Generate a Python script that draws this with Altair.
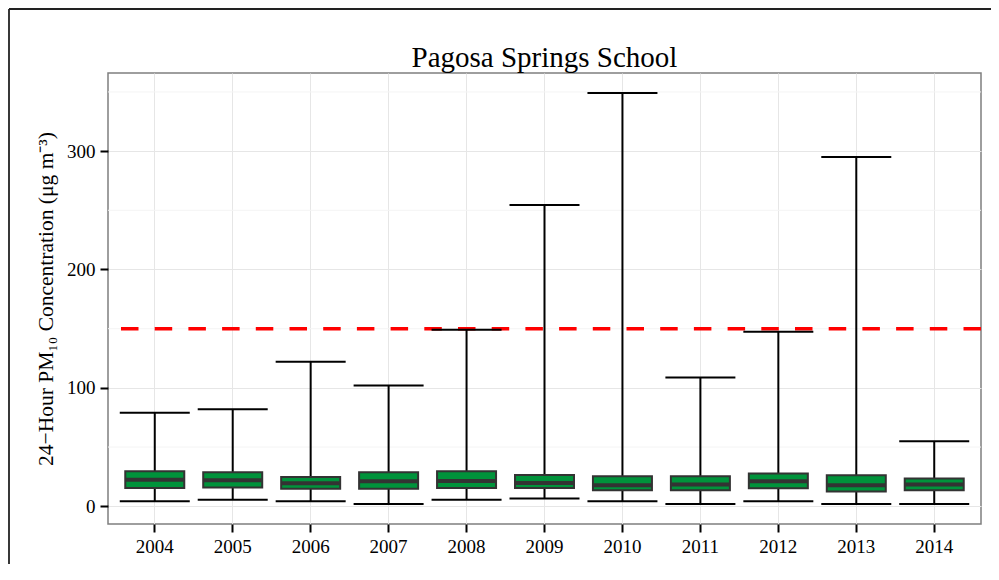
import altair as alt
import pandas as pd

# ---- data ----
years = ["2004", "2005", "2006", "2007", "2008", "2009", "2010", "2011", "2012", "2013", "2014"]
ymin = [4.2, 5.4, 4.2, 2.0, 5.4, 6.5, 4.2, 2.0, 4.2, 2.0, 2.0]
q1 = [15.5, 15.8, 14.8, 14.7, 15.5, 15.5, 13.5, 13.5, 15.2, 12.4, 13.5]
median = [22.4, 21.9, 19.5, 21.1, 21.4, 19.7, 17.7, 18.3, 21.1, 17.7, 18.3]
q3 = [29.5, 28.7, 24.7, 28.8, 29.5, 26.3, 25.4, 25.4, 27.6, 26.2, 23.4]
ymax = [79, 82, 122, 102, 149, 254.5, 349, 108.7, 147.5, 295, 55]
standard = [150]
minor_grid = [50, 150, 250, 350]
title_text = "Pagosa Springs School"
y_title = "24−Hour PM₁₀ Concentration (μg m⁻³)"

df = pd.DataFrame({"year": years, "ymin": ymin, "q1": q1, "med": median, "q3": q3, "ymax": ymax})
std_df = pd.DataFrame({"v": standard})
minor_df = pd.DataFrame({"v": minor_grid})

W, H = 873, 451
FONT = "Liberation Serif"

y_scale = alt.Scale(domain=[-15, 366], nice=False, zero=False)
x_enc = alt.X(
    "year:N",
    title=None,
    sort=years,
    scale=alt.Scale(paddingInner=0, paddingOuter=0.1),
    axis=alt.Axis(labelAngle=0, grid=True, gridColor="#e6e6e6", gridWidth=1),
)
y_axis = alt.Axis(
    values=[0, 100, 200, 300],
    title=y_title,
    grid=True,
    gridColor="#e6e6e6",
    gridWidth=1,
    titlePadding=9,
)

minor = alt.Chart(minor_df).mark_rule(color="#f4f4f4", strokeWidth=1).encode(
    y=alt.Y("v:Q", scale=y_scale, axis=y_axis)
)

std_line = alt.Chart(std_df).mark_rule(
    color="#ff0000", strokeWidth=3.5, strokeDash=[17.5, 16.2]
).encode(y=alt.Y("v:Q", scale=y_scale, axis=y_axis))

base = alt.Chart(df)

whisker = base.mark_rule(color="black", strokeWidth=2).encode(
    x=x_enc,
    y=alt.Y("ymin:Q", scale=y_scale, axis=y_axis),
    y2="ymax:Q",
)
cap_low = base.mark_tick(color="black", size=70, thickness=2, opacity=1).encode(
    x=x_enc, y=alt.Y("ymin:Q", scale=y_scale, axis=y_axis)
)
cap_high = base.mark_tick(color="black", size=70, thickness=2, opacity=1).encode(
    x=x_enc, y=alt.Y("ymax:Q", scale=y_scale, axis=y_axis)
)
box = base.mark_bar(size=59, fill="#00933b", stroke="#333333", strokeWidth=2).encode(
    x=x_enc, y=alt.Y("q1:Q", scale=y_scale, axis=y_axis), y2="q3:Q"
)
med = base.mark_tick(color="#333333", size=58, thickness=4, opacity=1).encode(
    x=x_enc, y=alt.Y("med:Q", scale=y_scale, axis=y_axis)
)

frame_df = pd.DataFrame({"a": [0]})
frame_left = alt.Chart(frame_df).mark_rule(color="#222222", strokeWidth=1.8).encode(
    x=alt.value(-99), y=alt.value(-64), y2=alt.value(H + 80)
)
frame_top = alt.Chart(frame_df).mark_rule(color="#222222", strokeWidth=1.8).encode(
    x=alt.value(-99), x2=alt.value(W + 30), y=alt.value(-64)
)
title_mark = alt.Chart(frame_df).mark_text(
    text=title_text,
    font=FONT,
    fontSize=29,
    color="black",
    align="center",
    baseline="alphabetic",
).encode(x=alt.value(W / 2), y=alt.value(-6))

chart = (
    alt.layer(minor, std_line, whisker, cap_low, cap_high, box, med,
              frame_left, frame_top, title_mark)
    .properties(
        width=W,
        height=H,
        autosize=alt.AutoSizeParams(type="none"),
        padding={"left": 100, "top": 65, "right": 10, "bottom": 40},
    )
    .configure_view(stroke="#7f7f7f", strokeWidth=1.5)
    .configure_axis(
        labelFont=FONT,
        labelFontSize=19,
        labelColor="black",
        titleFont=FONT,
        titleFontSize=21.5,
        titleFontWeight="normal",
        titleColor="black",
        tickColor="black",
        tickWidth=2,
        tickSize=8,
        labelPadding=5,
        domain=False,
    )
)

chart.save("out.html", embed_options={"renderer": "svg", "actions": False})
